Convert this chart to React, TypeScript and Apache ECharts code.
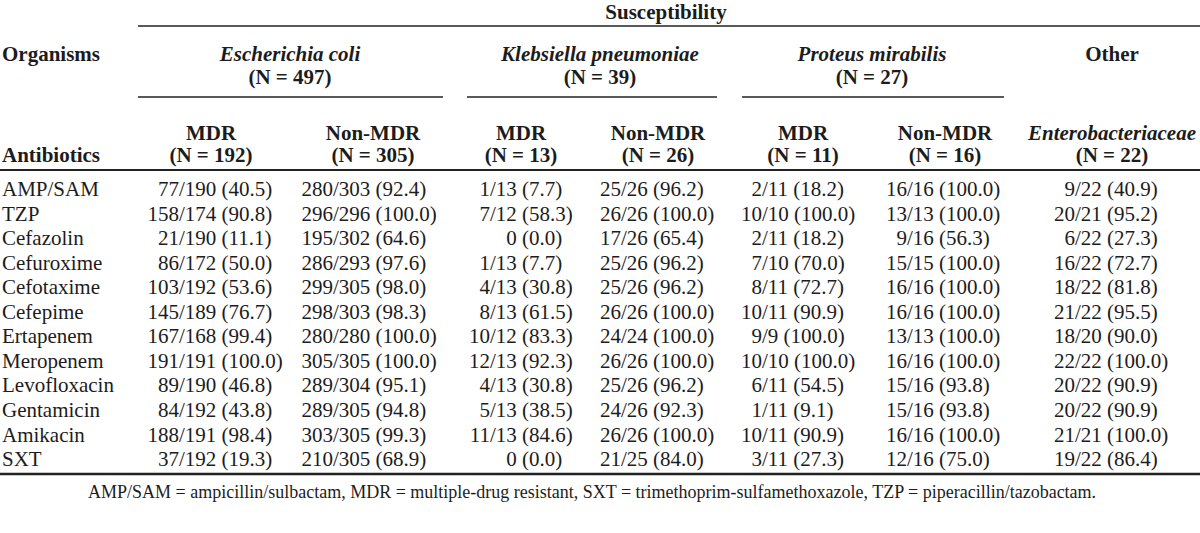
import React, { useEffect, useRef } from "react";
import * as echarts from "echarts";

// ---------- data ----------
const antibiotics = ["AMP/SAM", "TZP", "Cefazolin", "Cefuroxime", "Cefotaxime", "Cefepime", "Ertapenem", "Meropenem", "Levofloxacin", "Gentamicin", "Amikacin", "SXT"];
const ecoliMDR = ["77/190 (40.5)", "158/174 (90.8)", "21/190 (11.1)", "86/172 (50.0)", "103/192 (53.6)", "145/189 (76.7)", "167/168 (99.4)", "191/191 (100.0)", "89/190 (46.8)", "84/192 (43.8)", "188/191 (98.4)", "37/192 (19.3)"];
const ecoliNonMDR = ["280/303 (92.4)", "296/296 (100.0)", "195/302 (64.6)", "286/293 (97.6)", "299/305 (98.0)", "298/303 (98.3)", "280/280 (100.0)", "305/305 (100.0)", "289/304 (95.1)", "289/305 (94.8)", "303/305 (99.3)", "210/305 (68.9)"];
const kpMDR = ["1/13 (7.7)", "7/12 (58.3)", "0 (0.0)", "1/13 (7.7)", "4/13 (30.8)", "8/13 (61.5)", "10/12 (83.3)", "12/13 (92.3)", "4/13 (30.8)", "5/13 (38.5)", "11/13 (84.6)", "0 (0.0)"];
const kpNonMDR = ["25/26 (96.2)", "26/26 (100.0)", "17/26 (65.4)", "25/26 (96.2)", "25/26 (96.2)", "26/26 (100.0)", "24/24 (100.0)", "26/26 (100.0)", "25/26 (96.2)", "24/26 (92.3)", "26/26 (100.0)", "21/25 (84.0)"];
const pmMDR = ["2/11 (18.2)", "10/10 (100.0)", "2/11 (18.2)", "7/10 (70.0)", "8/11 (72.7)", "10/11 (90.9)", "9/9 (100.0)", "10/10 (100.0)", "6/11 (54.5)", "1/11 (9.1)", "10/11 (90.9)", "3/11 (27.3)"];
const pmNonMDR = ["16/16 (100.0)", "13/13 (100.0)", "9/16 (56.3)", "15/15 (100.0)", "16/16 (100.0)", "16/16 (100.0)", "13/13 (100.0)", "16/16 (100.0)", "15/16 (93.8)", "15/16 (93.8)", "16/16 (100.0)", "12/16 (75.0)"];
const otherEnt = ["9/22 (40.9)", "20/21 (95.2)", "6/22 (27.3)", "16/22 (72.7)", "18/22 (81.8)", "21/22 (95.5)", "18/20 (90.0)", "22/22 (100.0)", "20/22 (90.9)", "20/22 (90.9)", "21/21 (100.0)", "19/22 (86.4)"];
const columns = [ecoliMDR, ecoliNonMDR, kpMDR, kpNonMDR, pmMDR, pmNonMDR, otherEnt];

const groupTitles = ["Escherichia coli", "Klebsiella pneumoniae", "Proteus mirabilis"];
const groupNs = ["(N = 497)", "(N = 39)", "(N = 27)"];
const subTitles = ["MDR", "Non-MDR", "MDR", "Non-MDR", "MDR", "Non-MDR"];
const subNs = ["(N = 192)", "(N = 305)", "(N = 13)", "(N = 26)", "(N = 11)", "(N = 16)", "(N = 22)"];
const footnote = "AMP/SAM = ampicillin/sulbactam, MDR = multiple-drug resistant, SXT = trimethoprim-sulfamethoxazole, TZP = piperacillin/tazobactam.";

// ---------- layout ----------
const W = 1200;
const H = 533;
const FONT = "Liberation Serif";
const FS = 21;
const INK = "#1c1c1c";
const COL_SLASH_X = [179, 333, 490, 621, 762, 907, 1075];
const SUB_CENTER_X = [211, 373, 521, 658, 803, 945, 1112];
const GROUP_LINES = [[138, 443], [467, 717], [742, 1004]];
const GROUP_TITLE_X = [290, 600, 872];
const ROW_FIRST_Y = 189;
const ROW_STEP = 24.55;

function txt(text: string, x: number, y: number, align: string, opts: any = {}) {
  const style: any = {
    text, x, y,
    fontFamily: FONT,
    fontSize: opts.fontSize || FS,
    fill: INK,
    align,
    verticalAlign: "middle",
  };
  if (opts.bold) style.fontWeight = "bold";
  if (opts.italic) style.fontStyle = "italic";
  return { type: "text", style };
}
function hline(x1: number, x2: number, y: number, w: number) {
  return { type: "line", silent: true, shape: { x1, y1: y, x2, y2: y }, style: { stroke: "#222", lineWidth: w } };
}

export default function App() {
  const ref = useRef<HTMLDivElement>(null);
  useEffect(() => {
    if (!ref.current) return;
    const chart = echarts.init(ref.current, null, { renderer: "svg" });

    const graphics: any[] = [];
    graphics.push(txt("Susceptibility", 666, 12, "center", { bold: true }));
    graphics.push(hline(138, W, 26, 1.5));
    graphics.push(txt("Organisms", 2, 54, "left", { bold: true }));
    groupTitles.forEach((t, i) => {
      graphics.push(txt(t, GROUP_TITLE_X[i], 54, "center", { italic: true, bold: true }));
      graphics.push(txt(groupNs[i], GROUP_TITLE_X[i], 77, "center", { bold: true }));
      graphics.push(hline(GROUP_LINES[i][0], GROUP_LINES[i][1], 97, 1.5));
    });
    graphics.push(txt("Other", SUB_CENTER_X[6], 54, "center", { bold: true }));
    subTitles.forEach((t, i) => graphics.push(txt(t, SUB_CENTER_X[i], 133, "center", { bold: true })));
    graphics.push(txt("Enterobacteriaceae", SUB_CENTER_X[6], 133, "center", { italic: true, bold: true }));
    subNs.forEach((t, i) => graphics.push(txt(t, SUB_CENTER_X[i], 155, "center", { bold: true })));
    graphics.push(txt("Antibiotics", 2, 155, "left", { bold: true }));
    graphics.push(hline(0, W, 170, 2));
    graphics.push(hline(0, W, 474, 2.5));
    graphics.push(txt(footnote, 88, 492, "left", { fontSize: 18 }));

    const cellData: any[] = [];
    columns.forEach((col, c) => col.forEach((v, r) => cellData.push([COL_SLASH_X[c], antibiotics[r], v])));
    const labelData = antibiotics.map((a) => [2, a, a]);

    const noSlashOffset = FS * 3.44;

    const option: any = {
      animation: false,
      grid: { left: 0, right: 0, top: ROW_FIRST_Y - ROW_STEP / 2, height: ROW_STEP * antibiotics.length },
      xAxis: { type: "value", min: 0, max: W, show: false },
      yAxis: { type: "category", data: antibiotics, inverse: true, show: false },
      graphic: graphics,
      series: [
        {
          type: "custom",
          data: labelData,
          renderItem: (params: any, api: any) => {
            const p = api.coord([api.value(0), api.value(1)]);
            const item = labelData[params.dataIndex];
            return txt(item[2] as string, p[0], p[1], "left");
          },
        },
        {
          type: "custom",
          data: cellData,
          renderItem: (params: any, api: any) => {
            const p = api.coord([api.value(0), api.value(1)]);
            const s: string = cellData[params.dataIndex][2];
            const k = s.indexOf("/");
            if (k < 0) {
              return txt(s, p[0] + noSlashOffset, p[1], "right");
            }
            return {
              type: "group",
              children: [txt(s.slice(0, k), p[0], p[1], "right"), txt(s.slice(k), p[0], p[1], "left")],
            };
          },
        },
      ],
    };
    chart.setOption(option);
    return () => chart.dispose();
  }, []);
  return <div ref={ref} style={{ position: "absolute", left: 0, top: 0, width: W, height: H, background: "#fff" }} />;
}
